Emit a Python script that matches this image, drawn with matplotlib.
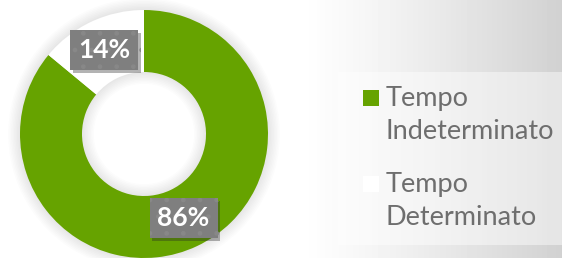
import numpy as np
import matplotlib.pyplot as plt
from matplotlib.patches import Rectangle
import matplotlib.patheffects as pe

# Dati
labels = ['Tempo\nIndeterminato', 'Tempo\nDeterminato']
values = [86, 14]
colors = ['#66a300', '#ffffff']

plt.rcParams['font.family'] = ['Lato', 'DejaVu Sans']

W, H = 562, 258
fig = plt.figure(figsize=(W / 100, H / 100), dpi=100)

# sfondo sfumato
bg = fig.add_axes([0, 0, 1, 1], zorder=-10)
x = np.linspace(0, 1, W)
shade = np.clip((x - 0.53) / 0.47, 0, 1) ** 1.2
grad = 1 - 0.18 * shade
bg.imshow(np.tile(grad, (H, 1)), cmap='gray', vmin=0, vmax=1,
          aspect='auto', extent=[0, 1, 0, 1])
bg.set_xlim(0, 1)
bg.set_ylim(0, 1)
bg.axis('off')

# riquadro della legenda
fig.patches.append(Rectangle((338 / W, 1 - 245 / H), 230 / W, 173 / H,
                             transform=fig.transFigure, facecolor='white',
                             alpha=0.45, edgecolor='none', zorder=-5))

ax = fig.add_axes([20 / W, 0, 248 / W, 248 / H])
ax.set_facecolor('none')

# ombra morbida attorno alla ciambella
for i in range(8):
    ax.pie([1], radius=1.0 + 0.012 * (i + 1), colors=['#000000'],
           wedgeprops=dict(width=0.5 + 0.024 * (i + 1), alpha=0.010,
                           linewidth=0))

wedges, texts, autotexts = ax.pie(
    values, colors=colors, startangle=90, counterclock=False,
    autopct='%1.0f%%', pctdistance=0.75,
    wedgeprops=dict(width=0.5, linewidth=0))

for t in autotexts:
    t.set_color('white')
    t.set_fontsize(19)
    t.set_fontweight('bold')
    t.set_bbox(dict(boxstyle='square,pad=0.3', facecolor='#7f7f7f',
                    edgecolor='#888888', linewidth=0, hatch='.'))
    t.get_bbox_patch().set_path_effects(
        [pe.SimplePatchShadow(offset=(2, -2), alpha=0.35), pe.Normal()])

ax.set_xlim(-1, 1)
ax.set_ylim(-1, 1)
ax.set_aspect('equal')

# legenda
for i, (lab, col) in enumerate(zip(labels, colors)):
    top = 90 + 86 * i
    fig.patches.append(Rectangle((363 / W, 1 - (top + 16) / H), 16 / W, 16 / H,
                                 transform=fig.transFigure, facecolor=col,
                                 edgecolor='none'))
    fig.text(386 / W, 1 - (top - 4) / H, lab, ha='left', va='top',
             fontsize=19.5, color='#6e6e6e', linespacing=1.38)

plt.savefig('out.png', dpi=100)
